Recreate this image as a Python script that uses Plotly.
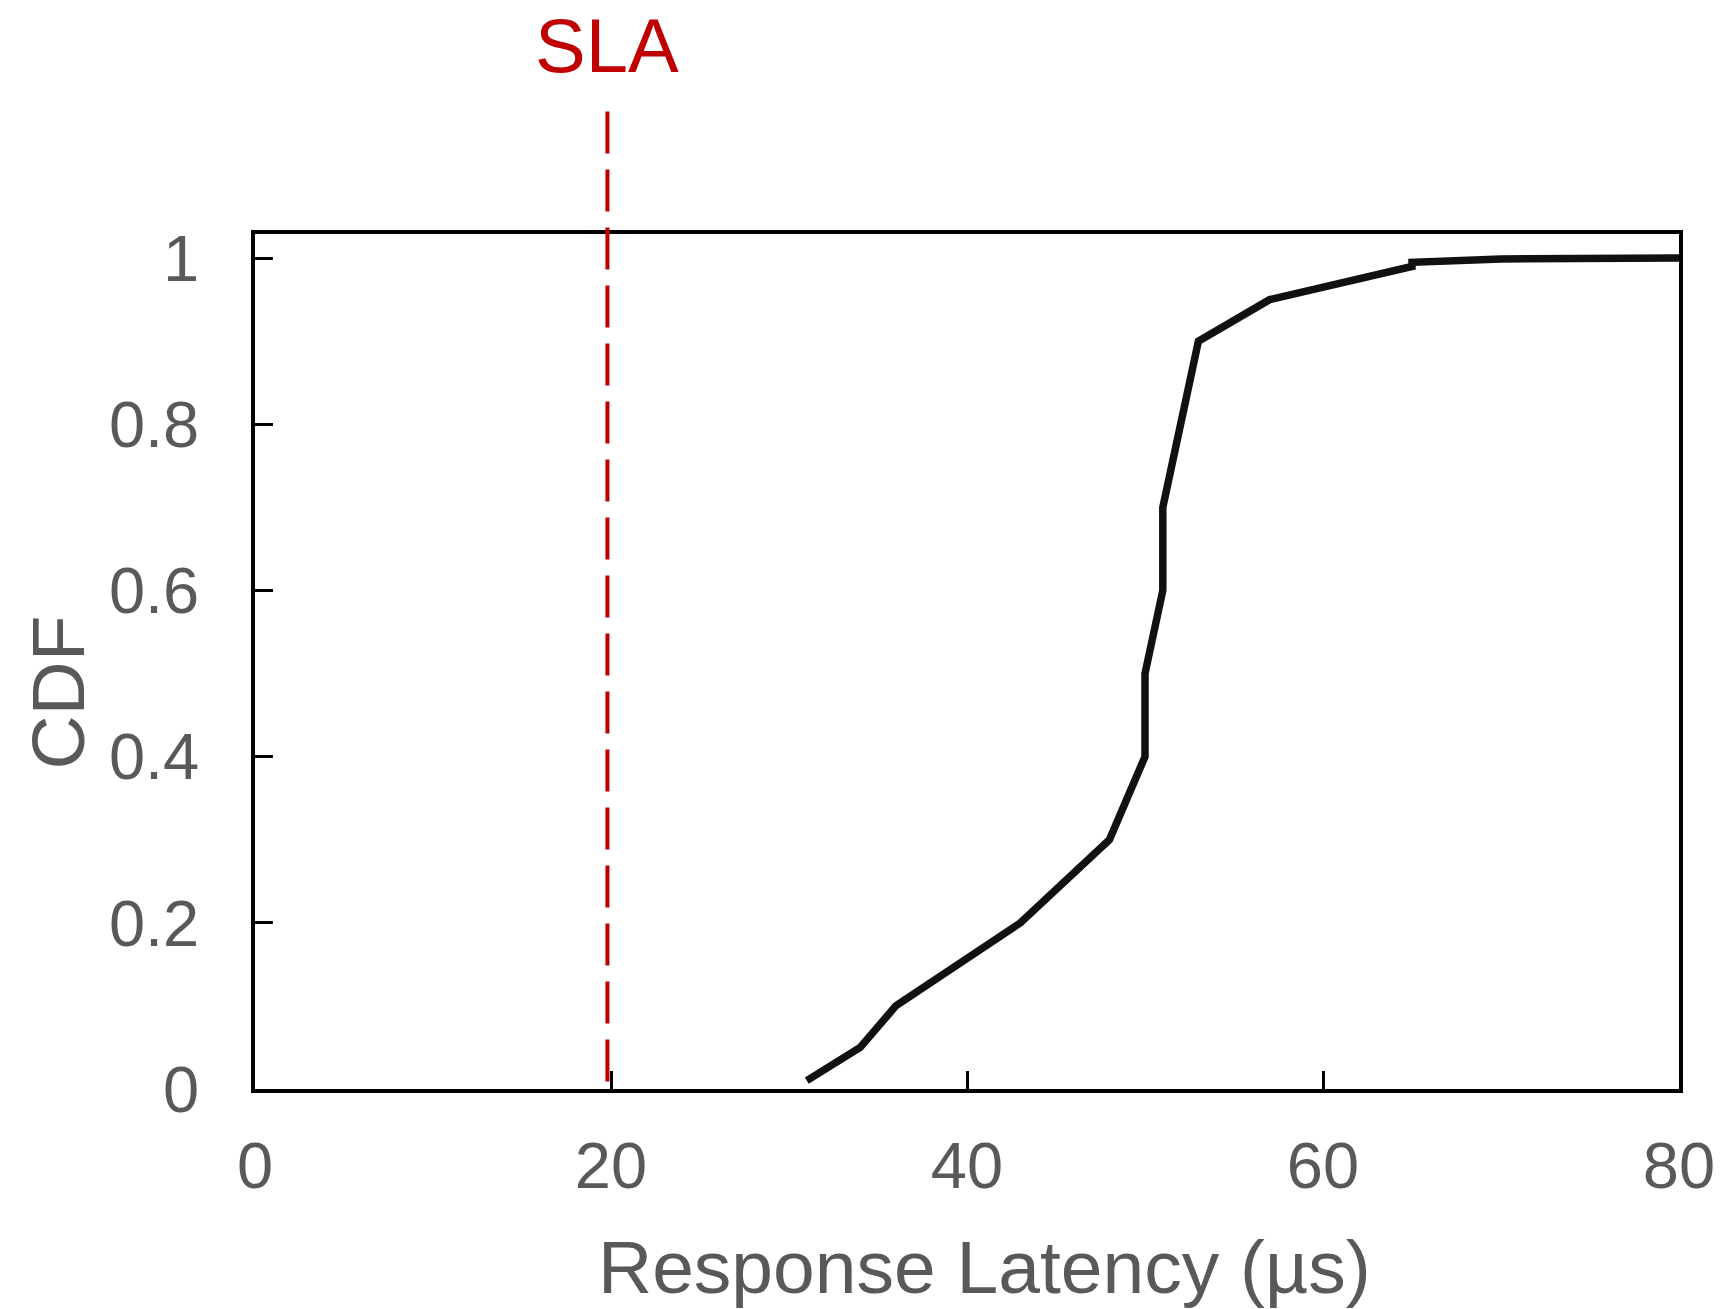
import plotly.graph_objects as go

latency_us = [31, 34, 36, 43, 48, 50, 50, 51, 51, 53, 57, 65, 65, 70, 80]
cdf_values = [0.01, 0.05, 0.10, 0.20, 0.30, 0.40, 0.50, 0.60, 0.70, 0.90, 0.95, 0.99, 0.995, 0.999, 1.0]
sla_us = 19.8
sla_label = "SLA"
x_title = "Response Latency (µs)"
y_title = "CDF"
x_ticks = [0, 20, 40, 60, 80]
y_ticks = [0, 0.2, 0.4, 0.6, 0.8, 1]
y_ticktext = ["0", "0.2", "0.4", "0.6", "0.8", "1"]

FONT = "Liberation Sans, Arial, sans-serif"
GRAY = "#595959"
RED = "#C00000"

# plot area in pixels
L, R, T, B = 254.5, 1679.5, 233.5, 1089.5
PW, PH = R - L, B - T

def px_x(px):
    return (px - L) / PW

def px_y(py):
    return (B - py) / PH

fig = go.Figure()
fig.add_trace(go.Scatter(
    x=latency_us, y=cdf_values, mode="lines",
    line=dict(color="#111111", width=7.5),
    showlegend=False, hoverinfo="skip",
))

fig.add_shape(type="line", xref="x", yref="paper",
              x0=sla_us, x1=sla_us, y0=px_y(1082), y1=px_y(102),
              line=dict(color=RED, width=4, dash="42px,16px"))

fig.add_annotation(x=sla_us, xref="x", y=px_y(45), yref="paper",
                   xanchor="center", yanchor="middle",
                   text=sla_label, showarrow=False,
                   font=dict(family=FONT, size=76, color=RED))

fig.add_annotation(x=px_x(984.6), xref="paper", y=px_y(1268), yref="paper",
                   xanchor="center", yanchor="middle",
                   text=x_title, showarrow=False,
                   font=dict(family=FONT, size=75, color=GRAY))
fig.add_annotation(x=px_x(57), xref="paper", y=px_y(693), yref="paper",
                   xanchor="center", yanchor="middle", textangle=-90,
                   text=y_title, showarrow=False,
                   font=dict(family=FONT, size=75, color=GRAY))

fig.update_layout(
    width=1722, height=1309,
    margin=dict(l=L, r=1722 - R, t=T, b=1309 - B, autoexpand=False),
    paper_bgcolor="white", plot_bgcolor="white",
    font=dict(family=FONT, color=GRAY),
)
fig.update_xaxes(
    range=[0, 80], tickvals=x_ticks, automargin=False,
    ticks="inside", ticklen=18, tickwidth=3, tickcolor="black",
    showline=True, linecolor="black", linewidth=3.5, mirror=True,
    showgrid=False, zeroline=False,
    tickfont=dict(family=FONT, size=65, color=GRAY),
    ticklabelstandoff=17,
)
fig.update_yaxes(
    range=[0, 1.029], tickvals=y_ticks, ticktext=y_ticktext, automargin=False,
    ticks="inside", ticklen=18, tickwidth=3, tickcolor="black",
    showline=True, linecolor="black", linewidth=3.5, mirror=True,
    showgrid=False, zeroline=False,
    tickfont=dict(family=FONT, size=65, color=GRAY),
    ticklabelstandoff=39,
)

fig.write_html("out.html")
